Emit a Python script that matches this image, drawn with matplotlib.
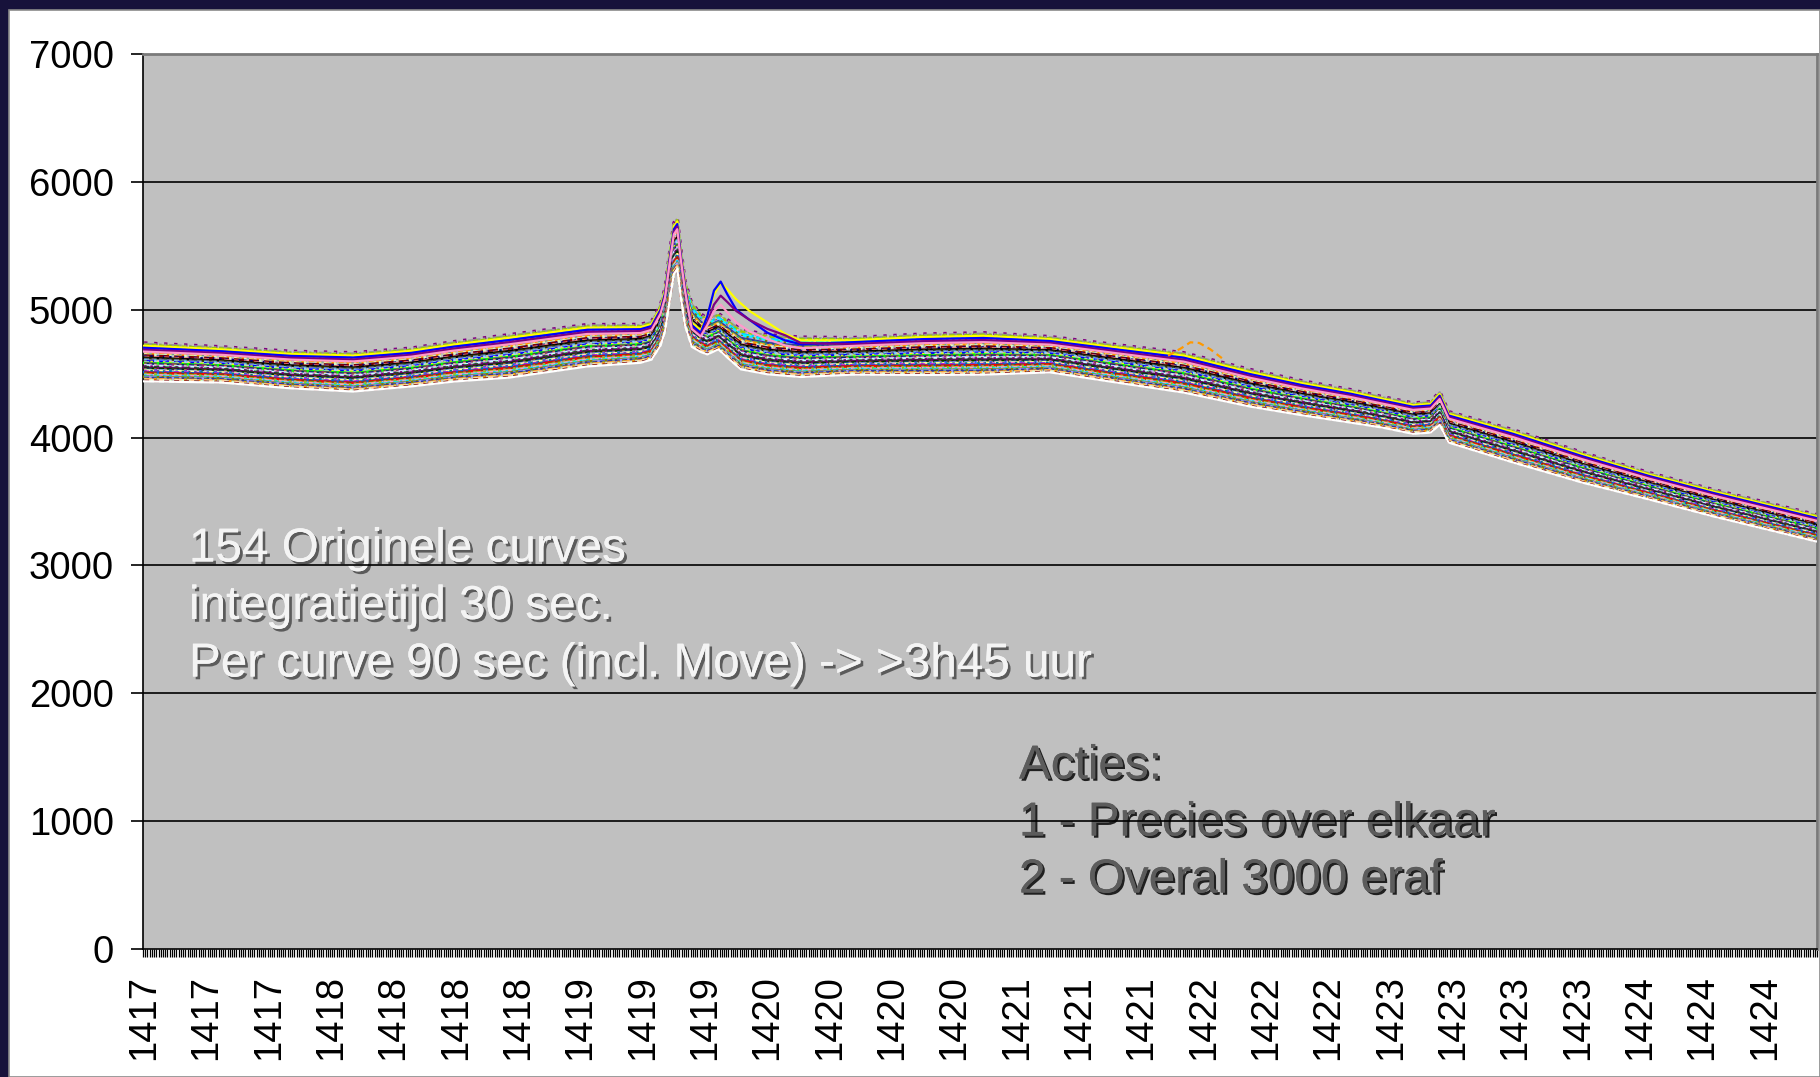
import matplotlib
matplotlib.use("Agg")
import matplotlib.pyplot as plt
import matplotlib.patheffects as pe
from matplotlib.patches import Rectangle

plt.rcParams['font.family'] = ['Liberation Sans', 'DejaVu Sans']

# ---- category axis (wavelength bins) ----
N_CATEGORIES = 752
LABEL_STEP = 28
tick_labels = ["1417", "1417", "1417", "1418", "1418", "1418", "1418",
               "1419", "1419", "1419", "1420", "1420", "1420", "1420",
               "1421", "1421", "1421", "1422", "1422", "1422",
               "1423", "1423", "1423", "1423", "1424", "1424", "1424"]

# ---- intensity profile of the bundle of curves ----
profile_cat = [0, 35, 66, 94, 120, 139, 164, 199, 223, 228, 232, 234, 236,
               238, 239.5, 241, 243, 246, 250, 253, 258, 263, 268, 280, 295,
               318, 350, 377, 407, 437, 467, 497, 520, 542, 556, 570, 578,
               582, 586, 615, 646, 676, 705, 751]
profile_mid = [4590, 4570, 4530, 4512, 4550, 4594, 4637, 4720, 4735, 4760,
               4880, 5000, 5250, 5480, 5520, 5300, 5050, 4880, 4820, 4790,
               4830, 4760, 4690, 4650, 4630, 4637, 4650, 4656, 4650, 4578,
               4508, 4387, 4310, 4246, 4200, 4150, 4160, 4230, 4082, 3933,
               3766, 3621, 3488, 3293]
profile_half = [150, 140, 145, 152, 150, 156, 168, 164, 150, 150, 160, 170,
                190, 200, 200, 190, 175, 170, 150, 140, 140, 150, 156, 155,
                156, 145, 160, 164, 140, 148, 156, 145, 135, 129, 121, 121,
                121, 130, 121, 128, 118, 105, 105, 105]

# relative position of each spectrum inside the bundle (-1 lowest, +1 highest)
curve_pos = [-1.00, -0.97, -0.94, -0.91, -0.88, -0.85, -0.82, -0.79, -0.76,
             -0.73, -0.70, -0.67, -0.64, -0.61, -0.58, -0.55, -0.52, -0.49,
             -0.46, -0.43, -0.40, -0.37, -0.34, -0.31, -0.28, -0.25, -0.22,
             -0.19, -0.16, -0.13, -0.10, -0.07, -0.04, -0.01, 0.02, 0.05,
             0.08, 0.11, 0.15, 0.19, 0.23, 0.27, 0.31, 0.35, 0.39, 0.43,
             0.47, 0.52, 0.57, 0.62, 0.67, 0.72, 0.78, 0.84, 0.90, 0.95, 1.00]

# spectra with a stronger secondary peak
peak2_cat = [246, 250, 253, 256, 259, 262, 266, 272, 280, 288, 295]
peak2_yellow = [4900, 4840, 4960, 5120, 5210, 5160, 5080, 4990, 4900, 4810, 4760]
peak2_blue = [4880, 4820, 4950, 5150, 5220, 5120, 5000, 4920, 4820, 4760, 4730]
peak2_purple = [4860, 4800, 4900, 5040, 5110, 5060, 4990, 4920, 4850, 4800, 4740]
peak2_pink = [4850, 4790, 4880, 4990, 5040, 4980, 4900, 4830, 4770, 4720, 4700]
peak2_pos = [0.85, 0.75, 0.65, 0.55]
peak2_colors = ["#FFFF00", "#0000FF", "#800080", "#FF99CC"]

# spectrum with a small bump near 1421.8
bump_cat = [460, 466, 470, 474, 479, 485]
bump_orange = [4640, 4700, 4745, 4740, 4690, 4610]

palette = ["#000080", "#FF00FF", "#FFFF00", "#00FFFF", "#800080", "#800000",
           "#008080", "#0000FF", "#00CCFF", "#CCFFFF", "#CCFFCC", "#FFFF99",
           "#99CCFF", "#FF99CC", "#CC99FF", "#FFCC99", "#3366FF", "#33CCCC",
           "#99CC00", "#FFCC00", "#FF9900", "#FF6600", "#666699", "#969696",
           "#003366", "#339966", "#003300", "#333300", "#993300", "#993366",
           "#333399", "#333333", "#000000", "#FF0000", "#00FF00", "#9999FF",
           "#660066", "#FF8080", "#0066CC", "#CCCCFF", "#808000", "#008000",
           "#FFFFFF"]
styles = ["-", (0, (2, 2)), (0, (1, 1.5)), (0, (4, 2)), (0, (3, 1, 1, 1)),
          (0, (1, 3)), (0, (2, 1)), (0, (5, 1, 1, 1, 1, 1))]

W, H = 1820, 1077
fig = plt.figure(figsize=(W / 100, H / 100), dpi=100, facecolor="#17123b")

# white slide panel behind the chart
fig.patches.append(Rectangle((9 / W, 0), 1 - 9 / W, (H - 10) / H,
                             transform=fig.transFigure, facecolor="white",
                             edgecolor="#8a8a8a", linewidth=1.2, zorder=-10))

ax = fig.add_axes([143 / W, (H - 949) / H, (1817 - 143) / W, (949 - 54) / H])
ax.set_zorder(5)
ax.set_facecolor("#C0C0C0")
ax.set_xlim(-0.5, N_CATEGORIES - 0.5)
ax.set_ylim(0, 7000)

# horizontal gridlines
for yv in range(1000, 7000, 1000):
    ax.axhline(yv, color="black", linewidth=1.2, zorder=2)


def band_curve(pos):
    return [m + pos * h for m, h in zip(profile_mid, profile_half)]


# main bundle of spectra, drawn top to bottom so the low ones stay visible
n = len(curve_pos)
for i in range(n - 1, -1, -1):
    ys = band_curve(curve_pos[i])
    if i == 0:
        color, ls, lw = "white", "-", 1.6
    elif i == n - 1:
        color, ls, lw = "#800080", (0, (1, 2)), 2.4
    else:
        color = palette[(i * 5) % (len(palette) - 1)]
        ls = styles[i % len(styles)]
        lw = 1.8
    ax.plot(profile_cat, ys, color=color, linestyle=ls, linewidth=lw,
            zorder=3)

# spectra with a pronounced secondary peak
for series, pos, color in zip([peak2_yellow, peak2_blue, peak2_purple,
                               peak2_pink], peak2_pos, peak2_colors):
    base = band_curve(pos)
    xs = [c for c in profile_cat if c < peak2_cat[0]] + peak2_cat + \
         [c for c in profile_cat if c > peak2_cat[-1]]
    ys = [b for c, b in zip(profile_cat, base) if c < peak2_cat[0]] + series + \
         [b for c, b in zip(profile_cat, base) if c > peak2_cat[-1]]
    ax.plot(xs, ys, color=color, linewidth=1.6, zorder=3.5)

ax.plot(bump_cat, bump_orange, color="#FF9900", linestyle=(0, (3, 2)),
        linewidth=1.6, zorder=3.5)

# axes styling
for side in ["top", "right"]:
    ax.spines[side].set_color("#7a7a7a")
    ax.spines[side].set_linewidth(2.0)
for side in ["left", "bottom"]:
    ax.spines[side].set_color("black")
    ax.spines[side].set_linewidth(1.2)

ax.set_yticks(range(0, 7001, 1000))
ax.set_yticklabels([str(v) for v in range(0, 7001, 1000)])
ax.tick_params(axis="y", direction="out", length=9, width=1.2, pad=12,
               labelsize=27.5, colors="black")

label_pos = [k * LABEL_STEP for k in range(len(tick_labels))]
ax.set_xticks(label_pos)
ax.set_xticklabels(tick_labels, rotation=90, va="top", ha="center")
ax.set_xticks([c - 0.5 for c in range(N_CATEGORIES + 1)], minor=True)
ax.tick_params(axis="x", which="major", length=0, pad=19, labelsize=27.5)
ax.tick_params(axis="x", which="minor", direction="out", length=6,
               width=0.9, color="black")

# annotations
light_fx = [pe.withSimplePatchShadow(offset=(2, -2), shadow_rgbFace="#505050",
                                     alpha=0.9), pe.Normal()]
dark_fx = [pe.withSimplePatchShadow(offset=(1.6, -1.6), shadow_rgbFace="#202020",
                                    alpha=1.0), pe.Normal()]

info_lines = ["154 Originele curves",
              "integratietijd 30 sec.",
              "Per curve 90 sec (incl. Move) -> >3h45 uur"]
for k, line in enumerate(info_lines):
    ax.text(189 / W, 1 - (549 + 57.5 * k) / H, line, transform=fig.transFigure,
            fontsize=34.3, color="#f4f4f4", va="center", ha="left",
            path_effects=light_fx, zorder=1.5)

action_lines = ["Acties:",
                "1 - Precies over elkaar",
                "2 - Overal 3000 eraf"]
for k, line in enumerate(action_lines):
    ax.text(1019 / W, 1 - (766 + 57 * k) / H, line, transform=fig.transFigure,
            fontsize=34.3, color="#5c5c5c", va="center", ha="left",
            path_effects=dark_fx, zorder=1.5)

fig.savefig("out.png", dpi=100, facecolor=fig.get_facecolor())
